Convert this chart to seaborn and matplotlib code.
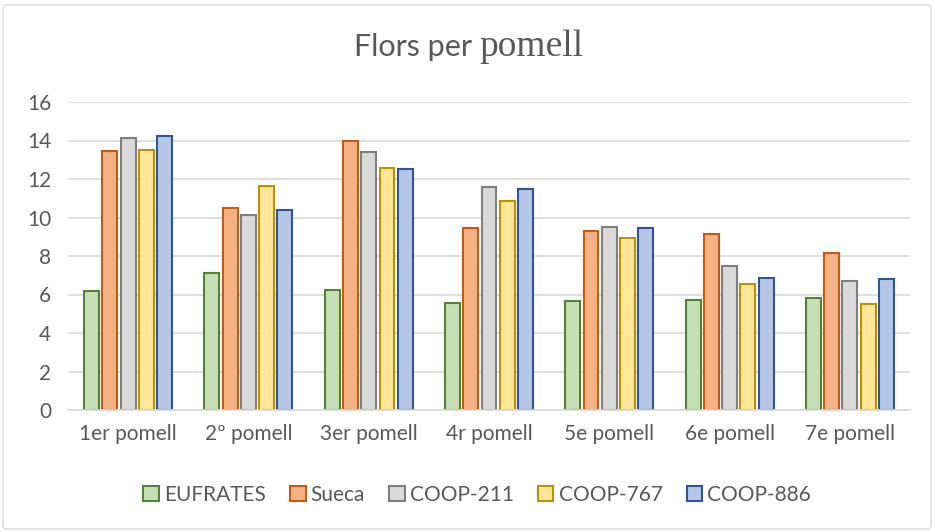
import matplotlib
matplotlib.use("Agg")
from matplotlib import pyplot as plt
from matplotlib.patches import FancyBboxPatch
import seaborn as sns
import pandas as pd

categories = ["1er pomell", "2º pomell", "3er pomell", "4r pomell", "5e pomell", "6e pomell", "7e pomell"]
series = ["EUFRATES", "Sueca", "COOP-211", "COOP-767", "COOP-886"]

eufrates = [6.16, 7.13, 6.23, 5.55, 5.66, 5.74, 5.81]
sueca = [13.48, 10.47, 13.96, 9.44, 9.30, 9.15, 8.15]
coop_211 = [14.13, 10.15, 13.40, 11.57, 9.51, 7.46, 6.69]
coop_767 = [13.53, 11.62, 12.59, 10.85, 8.96, 6.54, 5.50]
coop_886 = [14.22, 10.41, 12.50, 11.50, 9.48, 6.85, 6.80]

fills = ["#C5E0B4", "#F4B183", "#D9D9D9", "#FFE699", "#B4C7E7"]
edges = ["#548235", "#C55A11", "#7F7F7F", "#BF9000", "#2F5597"]
TEXT = "#595959"

rows = []
for name, vals in zip(series, [eufrates, sueca, coop_211, coop_767, coop_886]):
    for cat, v in zip(categories, vals):
        rows.append({"pomell": cat, "varietat": name, "flors": v})
df = pd.DataFrame(rows)

sns.set_style("white")
plt.rcParams["font.family"] = ["Lato", "DejaVu Sans"]

fig = plt.figure(figsize=(9.35, 5.32), dpi=100)
ax = fig.add_axes([68 / 935, 1 - 410 / 532, 842 / 935, 308 / 532])

sns.barplot(data=df, x="pomell", y="flors", hue="varietat", hue_order=series,
            palette=fills, saturation=1, width=0.76, gap=0.18, ax=ax, legend=True)

# outline each bar with the darker version of its series colour
for cont, ec in zip(ax.containers, edges):
    for bar in cont:
        bar.set_edgecolor(ec)
        bar.set_linewidth(1.5)

ax.set_ylim(0, 16)
ax.set_yticks(range(0, 17, 2))
ax.grid(axis="y", color="#D9D9D9", linewidth=1.2)
ax.set_axisbelow(True)
for s in ["top", "right", "left"]:
    ax.spines[s].set_visible(False)
ax.spines["bottom"].set_color("#D9D9D9")
ax.spines["bottom"].set_linewidth(1.2)
ax.tick_params(axis="both", length=0, labelsize=15, colors=TEXT, pad=10)
ax.tick_params(axis="y", pad=12)
ax.set_xlabel("")
ax.set_ylabel("")

handles, labels = ax.get_legend_handles_labels()
for h, ec in zip(handles, edges):
    h.set_edgecolor(ec)
    h.set_linewidth(1.5)
ax.legend(handles, labels, loc="center", bbox_to_anchor=(0.486, -0.275), ncol=5,
          frameon=False, fontsize=15, labelcolor=TEXT, handlelength=0.75,
          handleheight=0.75, handletextpad=0.25, columnspacing=1.15)

# title: sans part followed by serif part
fig.text(472 / 935, 1 - 47 / 532, "Flors per", ha="right", va="center",
         fontsize=22, color=TEXT, family=["Lato", "DejaVu Sans"])
fig.text(479 / 935, 1 - 47 / 532, "pomell", ha="left", va="center",
         fontsize=27, color=TEXT, family=["Liberation Serif", "DejaVu Serif"])

# chart border
fig.patches.append(FancyBboxPatch((3 / 935, 3 / 532), 928 / 935, 524 / 532,
                                  boxstyle="round,pad=0,rounding_size=0.005",
                                  transform=fig.transFigure, fill=False,
                                  edgecolor="#D9D9D9", linewidth=1))

fig.savefig("out.png", dpi=100)
